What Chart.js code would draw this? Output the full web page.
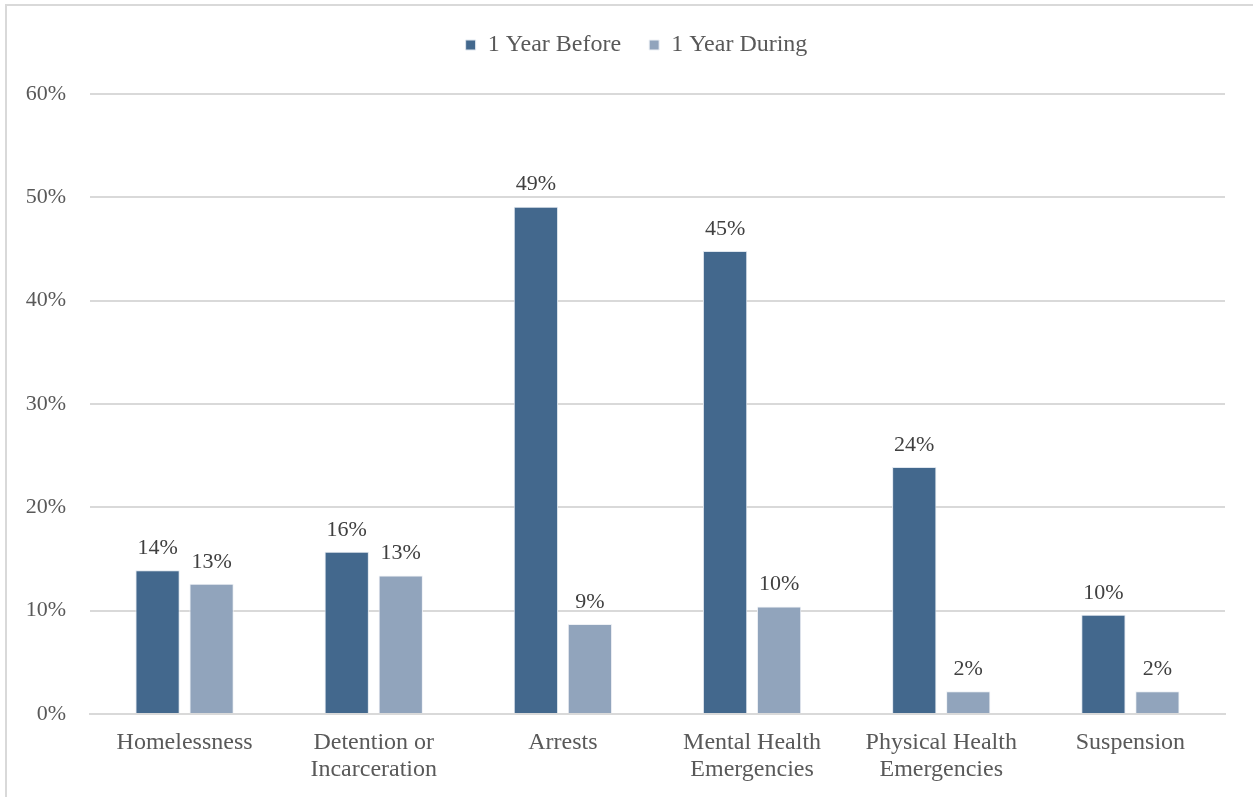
<!DOCTYPE html>
<html>
<head>
<meta charset="utf-8">
<script src="https://cdn.jsdelivr.net/npm/chart.js@4"></script>
<style>
  body { margin: 0; background: #fff; }
  #frame { position: absolute; left: 5px; top: 4px; width: 1260px; height: 800px; border: 2px solid #d9d9d9; box-sizing: border-box; }
  #wrap { position: absolute; left: 0; top: 0; width: 1253px; height: 797px; }
</style>
</head>
<body>
<div id="frame"></div>
<div id="wrap"><canvas id="c"></canvas></div>
<script>
// categories and values (percent)
var categories = ['Homelessness', ['Detention or', 'Incarceration'], 'Arrests', ['Mental Health', 'Emergencies'], ['Physical Health', 'Emergencies'], 'Suspension'];
var seriesNames = ['1 Year Before', '1 Year During'];
var yearBefore = [13.9, 15.7, 49.1, 44.8, 23.9, 9.6];
var yearDuring = [12.6, 13.4, 8.7, 10.4, 2.2, 2.2];
var yTicks = [0, 10, 20, 30, 40, 50, 60];

var serif = '"Liberation Serif", "Times New Roman", serif';
var grey = '#595959';

// draw the percent labels above each bar
var barLabels = {
    id: 'barLabels',
    afterDatasetsDraw: function(chart){
        var ctx = chart.ctx;
        ctx.save();
        ctx.font = '22px ' + serif;
        ctx.fillStyle = '#404040';
        ctx.textAlign = 'center';
        ctx.textBaseline = 'bottom';
        chart.data.datasets.forEach(function(ds, i){
            var meta = chart.getDatasetMeta(i);
            meta.data.forEach(function(bar, j){
                ctx.fillText(Math.round(ds.data[j]) + '%', bar.x, bar.y - 11);
            });
        });
        ctx.restore();
    }
};

// extra room between legend and plot, legend nudged right like the original
var legendGap = {
    id: 'legendGap',
    beforeInit: function(chart){
        var fit = chart.legend.fit;
        chart.legend.fit = function(){
            fit.bind(chart.legend)();
            this.height += 27;
        };
    },
    afterLayout: function(chart){
        chart.legend.left += 24;
        chart.legend.right += 24;
    }
};

new Chart(document.getElementById('c'), {
    type: 'bar',
    data: {
        labels: categories,
        datasets: [{
            label: seriesNames[0],
            data: yearBefore,
            backgroundColor: '#43688d',
            borderColor: '#dfe6ee',
            borderWidth: 1
        }, {
            label: seriesNames[1],
            data: yearDuring,
            backgroundColor: '#91a4bc',
            borderColor: '#eef1f5',
            borderWidth: 1
        }]
    },
    options: {
        responsive: true,
        maintainAspectRatio: false,
        animation: false,
        datasets: {
            bar: { categoryPercentage: 0.571, barPercentage: 0.82 }
        },
        layout: { padding: { top: 5, right: 28, left: 0, bottom: 0 } },
        plugins: {
            tooltip: { enabled: false },
            legend: {
                position: 'top',
                labels: {
                    font: { family: serif, size: 24 },
                    color: grey,
                    boxWidth: 10,
                    boxHeight: 10,
                    padding: 28
                }
            }
        },
        scales: {
            x: {
                grid: { display: false, drawTicks: false },
                border: { color: '#d9d9d9', width: 2 },
                ticks: {
                    font: { family: serif, size: 24, lineHeight: 1.1 },
                    color: grey,
                    padding: 16,
                    maxRotation: 0,
                    autoSkip: false
                },
                afterFit: function(scale){ scale.height = 83; }
            },
            y: {
                min: 0,
                max: 60,
                afterBuildTicks: function(scale){
                    scale.ticks = yTicks.map(function(v){ return { value: v }; });
                },
                grid: { color: '#d9d9d9', lineWidth: 2, drawTicks: false },
                border: { display: false },
                ticks: {
                    font: { family: serif, size: 22 },
                    color: grey,
                    padding: 24,
                    callback: function(v){ return v + '%'; }
                },
                afterFit: function(scale){ scale.width = 90; }
            }
        }
    },
    plugins: [barLabels, legendGap]
});
</script>
</body>
</html>
